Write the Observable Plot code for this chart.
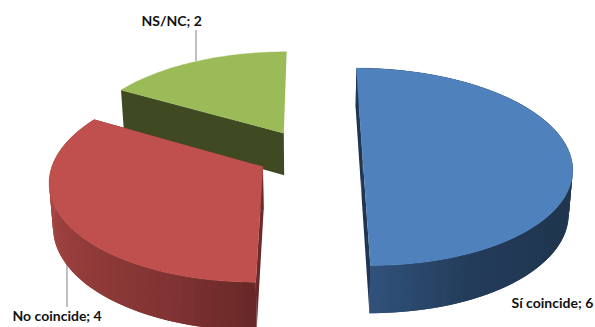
<!DOCTYPE html>
<html>
<head>
<meta charset="utf-8">
<script src="https://cdn.jsdelivr.net/npm/d3@7"></script>
<script src="https://cdn.jsdelivr.net/npm/@observablehq/plot@0.6"></script>
<style>
  html, body { margin: 0; padding: 0; background: #fff; }
  svg { display: block; }
</style>
</head>
<body>
<div id="chart"></div>
<script>
// Answers and their counts
const categories = ["Sí coincide", "No coincide", "NS/NC"];
const values = [6, 4, 2];

// Face colours and the side shading ramps (near the cut edge -> around the rim)
const topColors = ["#4f81bd", "#c0504d", "#9bbb59"];
const cutColors = ["#1f3552", "#6b2a2a", "#3f4a23"];
const sideRamps = [
  [[180, "#31527b"], [155, "#233c5a"], [120, "#20364f"], [0, "#1f3550"]],
  [[180, "#672827"], [200, "#7f3332"], [235, "#963e3c"], [270, "#aa4947"], [360, "#aa4947"]],
  null
];

// Where each label sits, and its leader line where it has one
const labelSpots = [
  {x: 511, y: 307, leader: null},
  {x: 12, y: 320, leader: [[66.5, 263], [66.5, 306]]},
  {x: 141, y: 25, leader: [[195.5, 30], [195.5, 60]]}
];

// Perspective view of the pie: unit circle in the plane, lifted by a rim height
const view = {x0: 309, y0: 153.5, rx: 207.5, ry: 97, persp: 0.13, explode: 0.255, depth: 43, lower: 0.985};
const rad = Math.PI / 180;

function project(X, Y, bottom) {
  const w = 1 / (1 + view.persp * Y);
  const s = bottom ? view.lower : 1;
  return {
    px: view.x0 + view.rx * X * w * s,
    py: view.y0 - view.ry * Y * w * s + (bottom ? view.depth * w : 0)
  };
}

const arcs = d3.pie().sort(null)(values);
const polys = [];
let polyId = 0;
function addPoly(corners, color, edge) {
  const id = polyId++;
  for (const c of corners) polys.push({id, color, edge, px: c.px, py: c.py});
}

function rampColor(ramp, deg) {
  const r = [...ramp].sort((a, b) => a[0] - b[0]);
  if (deg <= r[0][0]) return r[0][1];
  for (let i = 1; i < r.length; ++i) {
    if (deg <= r[i][0]) {
      return d3.interpolateRgb(r[i - 1][1], r[i][1])((deg - r[i - 1][0]) / (r[i][0] - r[i - 1][0]));
    }
  }
  return r[r.length - 1][1];
}

// Slices are painted far to near so the red one overlaps the green rim
const paintOrder = [0, 2, 1];
for (const i of paintOrder) {
  const arc = arcs[i];
  const mid = (arc.startAngle + arc.endAngle) / 2;
  const ox = view.explode * Math.sin(mid);
  const oy = view.explode * Math.cos(mid);
  const at = (t, radius, bottom) =>
    project(ox + radius * Math.sin(t), oy + radius * Math.cos(t), bottom);

  const steps = Math.round((arc.endAngle - arc.startAngle) / (1.5 * rad));
  const ts = d3.range(steps + 1).map(k => arc.startAngle + (arc.endAngle - arc.startAngle) * k / steps);

  // rim, in overlapping narrow strips so the shading varies without seams;
  // the green slice faces away, so its rim is never seen
  if (sideRamps[i]) {
    for (let k = 0; k < steps; ++k) {
      const deg = ((ts[k] + ts[k + 1]) / 2) / rad;
      const next = ts[Math.min(k + 2, steps)];
      addPoly([at(ts[k], 1, false), at(next, 1, false), at(next, 1, true), at(ts[k], 1, true)],
        rampColor(sideRamps[i], deg), "none");
    }
  }
  // cut faces; the green slice only shows its front one
  const cuts = i === 2 ? [arc.startAngle] : [arc.startAngle, arc.endAngle];
  for (const t of cuts) {
    addPoly([at(t, 1, false), at(t, 0, false), at(t, 0, true), at(t, 1, true)], cutColors[i], "none");
  }
  // top face
  addPoly([at(0, 0, false), ...ts.map(t => at(t, 1, false))], topColors[i], topColors[i]);
}

const leaders = labelSpots.flatMap((s, i) =>
  s.leader ? s.leader.map(([px, py]) => ({id: i, px, py})) : []);
const labels = categories.map((c, i) => ({
  text: `${c}; ${values[i]}`, px: labelSpots[i].x, py: labelSpots[i].y
}));

const chart = Plot.plot({
  width: 595,
  height: 327,
  margin: 0,
  x: {domain: [0, 595], range: [0, 595], axis: null},
  y: {domain: [0, 327], range: [0, 327], axis: null},
  marks: [
    Plot.line(leaders, {x: "px", y: "py", z: "id", stroke: "#808080", strokeWidth: 1}),
    Plot.line(polys, {
      x: "px", y: "py", z: "id",
      fill: {value: "color", scale: null},
      stroke: {value: "edge", scale: null},
      strokeWidth: 0.4
    }),
    Plot.text(labels, {
      x: "px", y: "py", text: "text",
      textAnchor: "start", lineAnchor: "bottom",
      fontFamily: "Lato", fontWeight: 700, fontSize: 14, fill: "#111"
    })
  ]
});
document.getElementById("chart").append(chart);
</script>
</body>
</html>
